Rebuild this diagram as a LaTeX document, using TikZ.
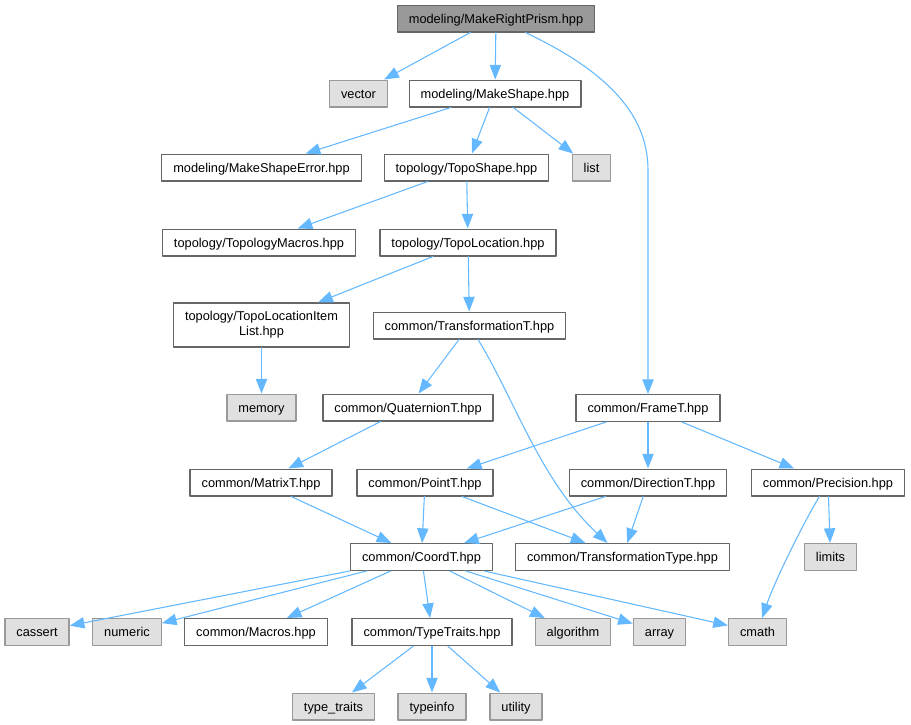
\documentclass[tikz,border=0pt]{standalone}
\usepackage{fontspec}
\setmainfont{Liberation Sans}
\usetikzlibrary{arrows.meta}

\definecolor{edgeblue}{HTML}{63B8FF}
\definecolor{fileline}{HTML}{666666}
\definecolor{sysline}{HTML}{999999}
\definecolor{sysfill}{HTML}{E0E0E0}
\definecolor{rootfill}{HTML}{999999}

\begin{document}
\begin{tikzpicture}[x=0.75pt, y=-0.75pt, line cap=round, line join=round,
  filebox/.style={draw=fileline, line width=1pt, fill=white, minimum height=20pt,
    inner xsep=8.6pt, inner ysep=2pt, text height=9pt, text depth=2.1pt,
    font=\fontsize{9.6}{11.5}\selectfont},
  sysbox/.style={filebox, draw=sysline, fill=sysfill},
  rootbox/.style={filebox, fill=rootfill},
  incl/.style={edgeblue, line width=0.8pt, -{Triangle[length=11pt, width=8.5pt]}}]
  % Frame (pixel units, y downwards)
  \useasboundingbox (0,0) rectangle (911,725);

  % Files
  \node[rootbox] (prism) at (496,18.5) {modeling/MakeRightPrism.hpp};
  \node[sysbox]  (vector) at (358.5,93.5) {vector};
  \node[filebox] (makeshape) at (495,93.5) {modeling/MakeShape.hpp};
  \node[filebox] (shapeerror) at (261.5,167.5) {modeling/MakeShapeError.hpp};
  \node[filebox] (toposhape) at (466.5,167.5) {topology/TopoShape.hpp};
  \node[sysbox]  (list) at (591.5,167.5) {list};
  \node[filebox] (topomacros) at (259,242.5) {topology/TopologyMacros.hpp};
  \node[filebox] (topoloc) at (468,242.5) {topology/TopoLocation.hpp};
  \node[filebox, align=center, text height={}, text depth={}, minimum height=33pt] (itemlist) at (261.5,325) {topology/TopoLocationItem\\List.hpp};
  \node[filebox] (transT) at (469.5,325.5) {common/TransformationT.hpp};
  \node[sysbox]  (memory) at (261.5,407.5) {memory};
  \node[filebox] (quatT) at (408,407.5) {common/QuaternionT.hpp};
  \node[filebox] (frameT) at (648,408) {common/FrameT.hpp};
  \node[filebox] (matrixT) at (261,482.5) {common/MatrixT.hpp};
  \node[filebox] (pointT) at (425,482.5) {common/PointT.hpp};
  \node[filebox] (dirT) at (648,482.5) {common/DirectionT.hpp};
  \node[filebox] (precision) at (828,482.5) {common/Precision.hpp};
  \node[filebox] (coordT) at (421.5,557) {common/CoordT.hpp};
  \node[filebox] (transtype) at (622.5,557) {common/TransformationType.hpp};
  \node[sysbox]  (limits) at (830.5,557) {limits};
  \node[sysbox]  (cassert) at (37,632) {cassert};
  \node[sysbox]  (numeric) at (127,632) {numeric};
  \node[filebox] (macros) at (256,632) {common/Macros.hpp};
  \node[filebox] (typetraits) at (432,632) {common/TypeTraits.hpp};
  \node[sysbox]  (algorithm) at (573,632) {algorithm};
  \node[sysbox]  (array) at (659.5,632) {array};
  \node[sysbox]  (cmath) at (757.5,632) {cmath};
  \node[sysbox]  (stdtraits) at (333.5,706.5) {type\_traits};
  \node[sysbox]  (typeinfo) at (432,706.5) {typeinfo};
  \node[sysbox]  (utility) at (516,706.5) {utility};

  % Bend of the long edge to FrameT
  \coordinate (bendF) at (648,170);

  % Includes
  \draw[incl] (prism) -- (vector);
  \draw[incl] (prism) -- (makeshape);
  \draw[incl] (prism) .. controls (600,68) and (648,110) .. (bendF) -- (frameT);
  \draw[incl] (makeshape) -- (shapeerror);
  \draw[incl] (makeshape) -- (toposhape);
  \draw[incl] (makeshape) -- (list);
  \draw[incl] (toposhape) -- (topomacros);
  \draw[incl] (toposhape) -- (topoloc);
  \draw[incl] (topoloc) -- (itemlist);
  \draw[incl] (topoloc) -- (transT);
  \draw[incl] (itemlist) -- (memory);
  \draw[incl] (transT) -- (quatT);
  \draw[incl] (transT) .. controls (515,400) and (540,480) .. (transtype);
  \draw[incl] (quatT) -- (matrixT);
  \draw[incl] (matrixT) -- (coordT);
  \draw[incl] (frameT) -- (pointT);
  \draw[incl] (frameT) -- (dirT);
  \draw[incl] (frameT) -- (precision);
  \draw[incl] (pointT) -- (coordT);
  \draw[incl] (pointT) -- (transtype);
  \draw[incl] (dirT) -- (coordT);
  \draw[incl] (dirT) -- (transtype);
  \draw[incl] (precision) -- (limits);
  \draw[incl] (precision) .. controls (805,520) and (775,580) .. (cmath);
  \foreach \dst in {cassert,numeric,macros,typetraits,algorithm,array,cmath}
    \draw[incl] (coordT) -- (\dst);
  \foreach \dst in {stdtraits,typeinfo,utility}
    \draw[incl] (typetraits) -- (\dst);
\end{tikzpicture}
\end{document}
